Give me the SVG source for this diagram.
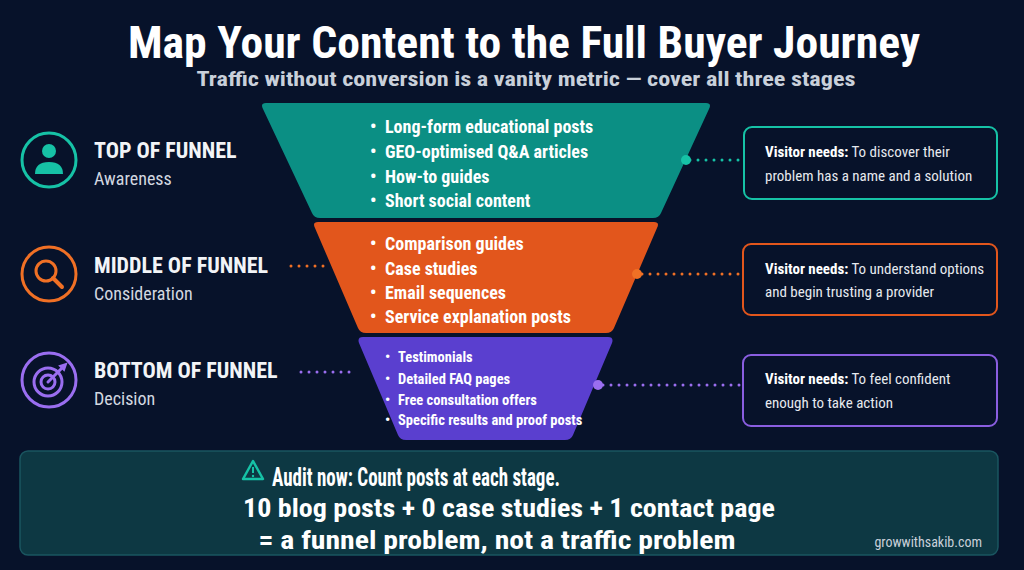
<svg xmlns="http://www.w3.org/2000/svg" width="1024" height="570" viewBox="0 0 1024 570">
<style>
text{font-family:"Roboto Condensed",Roboto,"Liberation Sans",sans-serif;fill:#fff}
.b{font-weight:700}
.ft{font-size:18px;font-weight:700}
.fs{font-size:14.5px;font-weight:700}
.lh{font-size:22px;font-weight:700;fill:#f2f4f7}
.ls{font-size:18px;fill:#d3d8e0}
.bx{font-size:15px;fill:#e6e9ee}
.dot{fill:none;stroke-width:3;stroke-linecap:round;stroke-dasharray:0 8}
</style>
<rect width="1024" height="570" fill="#07122a"/>
<text x="524" y="58" text-anchor="middle" class="b" font-size="44" textLength="792" lengthAdjust="spacingAndGlyphs">Map Your Content to the Full Buyer Journey</text>
<text x="526" y="86" text-anchor="middle" font-size="21" font-weight="700" fill="#c9d0da" style="fill:#c9d0da" textLength="659" lengthAdjust="spacingAndGlyphs">Traffic without conversion is a vanity metric — cover all three stages</text>

<g id="top">
<path d="M266,103 L706,103 Q712,103 709,109 L661,213 Q659,218 653,218 L320,218 Q314,218 312,213 L263,109 Q260,103 266,103Z" fill="#0b8f84"/>
<g class="ft"><text x="370" y="133">•</text><text x="385" y="133">Long-form educational posts</text>
<text x="370" y="158">•</text><text x="385" y="158">GEO-optimised Q&amp;A articles</text>
<text x="370" y="183">•</text><text x="385" y="183">How-to guides</text>
<text x="370" y="207">•</text><text x="385" y="207">Short social content</text></g>
</g>
<g id="middle">
<path d="M318,222 L654,222 Q660,222 657,228 L614,328 Q612,333 606,333 L366,333 Q360,333 358,328 L315,228 Q312,222 318,222Z" fill="#e2561c"/>
<g class="ft"><text x="370" y="250">•</text><text x="385" y="250">Comparison guides</text>
<text x="370" y="275">•</text><text x="385" y="275">Case studies</text>
<text x="370" y="299">•</text><text x="385" y="299">Email sequences</text>
<text x="370" y="323">•</text><text x="385" y="323">Service explanation posts</text></g>
</g>
<g id="bottom">
<path d="M363,337 L608,337 Q614,337 612,343 L573,435 Q571,440 565,440 L406,440 Q400,440 398,435 L359,343 Q357,337 363,337Z" fill="#5a3fcf"/>
<g class="fs"><text x="385" y="362">•</text><text x="398" y="362">Testimonials</text>
<text x="385" y="384">•</text><text x="398" y="384">Detailed FAQ pages</text>
<text x="385" y="405">•</text><text x="398" y="405">Free consultation offers</text>
<text x="385" y="425">•</text><text x="398" y="425">Specific results and proof posts</text></g>
</g>

<g id="connectors">
<line x1="690" y1="160" x2="740" y2="160" class="dot" stroke="#16c2a6"/>
<circle cx="686" cy="160" r="5" fill="#16c2a6"/>
<line x1="642" y1="274" x2="740" y2="274" class="dot" stroke="#f07025"/>
<circle cx="637" cy="274" r="5" fill="#f07025"/>
<line x1="603" y1="385" x2="740" y2="385" class="dot" stroke="#9a6ef0"/>
<circle cx="598" cy="385" r="5" fill="#9a6ef0"/>
<line x1="291" y1="266" x2="326" y2="266" class="dot" stroke="#f07025"/>
<line x1="301" y1="372" x2="355" y2="372" class="dot" stroke="#9a6ef0"/>
</g>

<g id="label-top">
<circle cx="49" cy="160" r="27" fill="none" stroke="#16c2a6" stroke-width="3"/>
<circle cx="49" cy="151" r="7" fill="#16c2a6"/>
<path d="M35,174 Q35,162 49,162 Q63,162 63,174 Z" fill="#16c2a6"/>
<text x="94" y="158" class="lh">TOP OF FUNNEL</text>
<text x="94" y="185" class="ls">Awareness</text>
</g>
<g id="label-middle">
<circle cx="49" cy="274" r="27" fill="none" stroke="#f07025" stroke-width="3"/>
<circle cx="46" cy="271" r="10" fill="none" stroke="#f07025" stroke-width="3"/>
<line x1="53" y1="278" x2="62" y2="287" stroke="#f07025" stroke-width="4" stroke-linecap="round"/>
<text x="94" y="273" class="lh">MIDDLE OF FUNNEL</text>
<text x="94" y="300" class="ls">Consideration</text>
</g>
<g id="label-bottom">
<circle cx="49" cy="380" r="27" fill="none" stroke="#9a6ef0" stroke-width="3"/>
<circle cx="48" cy="382" r="14" fill="none" stroke="#9a6ef0" stroke-width="3"/>
<circle cx="48" cy="382" r="7" fill="none" stroke="#9a6ef0" stroke-width="3"/>
<line x1="48" y1="382" x2="62" y2="368" stroke="#9a6ef0" stroke-width="3" stroke-linecap="round"/>
<path d="M60,366 L66,364 L64,370Z" fill="#9a6ef0" stroke="#9a6ef0" stroke-width="2"/>
<text x="94" y="378" class="lh">BOTTOM OF FUNNEL</text>
<text x="94" y="405" class="ls">Decision</text>
</g>

<g id="box-top">
<rect x="744" y="127" width="253" height="72" rx="8" fill="#07122a" stroke="#16c2a6" stroke-width="2"/>
<text x="765" y="157" class="bx"><tspan font-weight="700" style="fill:#fff">Visitor needs:</tspan> To discover their</text>
<text x="765" y="181" class="bx">problem has a name and a solution</text>
</g>
<g id="box-middle">
<rect x="743" y="244" width="254" height="71" rx="8" fill="#07122a" stroke="#e2561c" stroke-width="2"/>
<text x="765" y="274" class="bx"><tspan font-weight="700" style="fill:#fff">Visitor needs:</tspan> To understand options</text>
<text x="765" y="297" class="bx">and begin trusting a provider</text>
</g>
<g id="box-bottom">
<rect x="743" y="355" width="254" height="71" rx="8" fill="#07122a" stroke="#8a5ee0" stroke-width="2"/>
<text x="765" y="384" class="bx"><tspan font-weight="700" style="fill:#fff">Visitor needs:</tspan> To feel confident</text>
<text x="765" y="408" class="bx">enough to take action</text>
</g>

<g id="banner">
<rect x="20" y="451" width="978" height="104" rx="8" fill="#0d3843" stroke="#1a5560" stroke-width="1.5"/>
<path d="M253,461 L263,479 L243,479 Z" fill="none" stroke="#16c2a6" stroke-width="2.5" stroke-linejoin="round"/>
<line x1="253" y1="467" x2="253" y2="473" stroke="#16c2a6" stroke-width="2"/>
<circle cx="253" cy="476" r="1.2" fill="#16c2a6"/>
<text x="272" y="486" class="b" font-size="26" textLength="288" lengthAdjust="spacingAndGlyphs">Audit now: Count posts at each stage.</text>
<text x="509" y="517" class="b" font-size="26" text-anchor="middle" textLength="532" lengthAdjust="spacingAndGlyphs">10 blog posts + 0 case studies + 1 contact page</text>
<text x="497" y="549" class="b" font-size="26" text-anchor="middle" textLength="477" lengthAdjust="spacingAndGlyphs">= a funnel problem, not a traffic problem</text>
<text x="982" y="547" font-size="14" text-anchor="end" style="fill:#c9d0da">growwithsakib.com</text>
</g>
</svg>
